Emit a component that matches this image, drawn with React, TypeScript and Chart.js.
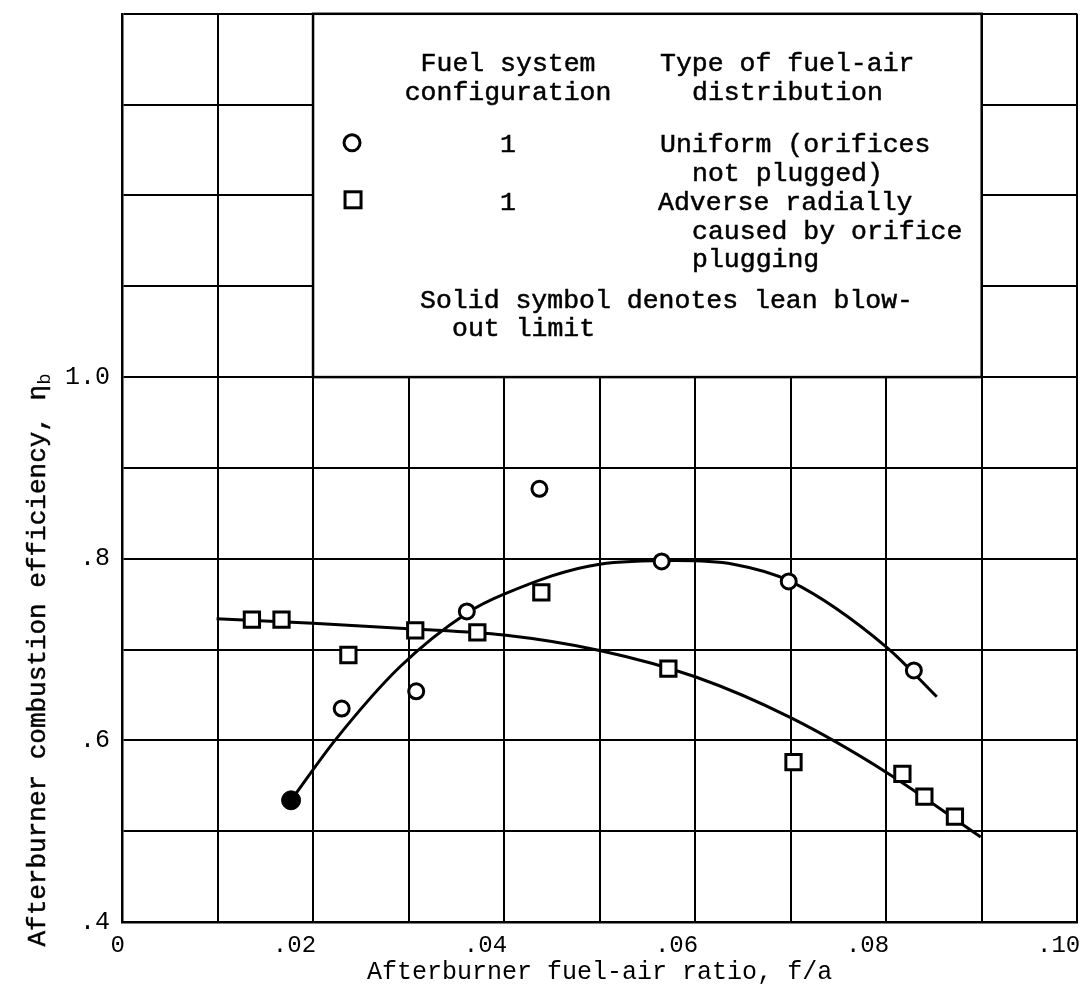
import React, { useEffect, useRef } from "react";
import { Chart, registerables } from "chart.js";

Chart.register(...registerables);

const FONT = '"Liberation Mono", "Courier New", monospace';

// Uniform fuel-air distribution (orifices not plugged), open circles
const uniformFA = [0.023, 0.0308, 0.0361, 0.0437, 0.0565, 0.0698, 0.0829];
const uniformEff = [0.635, 0.654, 0.742, 0.877, 0.797, 0.775, 0.677];

// Lean blow-out limit, solid circle
const blowoutFA = [0.0177];
const blowoutEff = [0.534];

// Adverse radial distribution caused by orifice plugging, open squares
const pluggedFA = [0.0136, 0.0167, 0.0237, 0.0307, 0.0372, 0.0439, 0.0572, 0.0703, 0.0817, 0.084, 0.0872];
const pluggedEff = [0.733, 0.733, 0.694, 0.721, 0.719, 0.763, 0.679, 0.576, 0.563, 0.538, 0.516];

// Faired curves through each set
const uniformCurveFA = [0.0177, 0.0223, 0.0291, 0.0361, 0.04, 0.05, 0.058, 0.064, 0.07, 0.08, 0.0853];
const uniformCurveEff = [0.534, 0.6, 0.681, 0.74, 0.761, 0.794, 0.798, 0.794, 0.775, 0.703, 0.648];
const pluggedCurveFA = [0.0099, 0.02, 0.03, 0.04, 0.05, 0.06, 0.07, 0.08, 0.0899];
const pluggedCurveEff = [0.734, 0.729, 0.723, 0.716, 0.699, 0.67, 0.625, 0.565, 0.4935];

// Labelled ticks
const xTickValues = [0, 0.02, 0.04, 0.06, 0.08, 0.1];
const xTickLabels = ["0", ".02", ".04", ".06", ".08", ".10"];
const yTickValues = [0.4, 0.6, 0.8, 1.0];
const yTickLabels = [".4", ".6", ".8", "1.0"];

const xTitle = "Afterburner fuel-air ratio, f/a";
const yTitleMain = "Afterburner combustion efficiency, \u03b7";
const yTitleSub = "b";

// Key text
const keyHeadLeft = ["Fuel system", "configuration"];
const keyHeadRight = ["Type of fuel-air", "distribution"];
const keyConfig = ["1", "1"];
const keyUniform = ["Uniform (orifices", "not plugged)"];
const keyPlugged = ["Adverse radially", "caused by orifice", "plugging"];
const keyNote = ["Solid symbol denotes lean blow-", "out limit"];

const pts = (xs: number[], ys: number[]) => xs.map((x, i) => ({ x, y: ys[i] }));

const labelFor = (values: number[], labels: string[], v: number) => {
  const i = values.findIndex((t) => Math.abs(t - v) < 1e-6);
  return i >= 0 ? labels[i] : "";
};

const keyPlugin = {
  id: "keyBox",
  beforeDatasetsDraw(chart: any) {
    const { ctx } = chart;
    const xs = chart.scales.x;
    const ys = chart.scales.y;
    const L = xs.getPixelForValue(0.02);
    const R = xs.getPixelForValue(0.09);
    const T = ys.getPixelForValue(1.4);
    const B = ys.getPixelForValue(1.0);
    ctx.save();
    ctx.fillStyle = "#fff";
    ctx.fillRect(L, T, R - L, B - T);
    ctx.strokeStyle = "#000";
    ctx.lineWidth = 2.5;
    ctx.strokeRect(L, T, R - L, B - T);

    ctx.fillStyle = "#000";
    ctx.strokeStyle = "#000";
    ctx.lineWidth = 0.5;
    ctx.font = `26.5px ${FONT}`;
    ctx.textBaseline = "alphabetic";
    const put = (t: string, x: number, y: number, align: CanvasTextAlign) => {
      ctx.textAlign = align;
      ctx.fillText(t, L + x, T + y);
      ctx.strokeText(t, L + x, T + y);
    };
    put(keyHeadLeft[0], 195, 57, "center");
    put(keyHeadLeft[1], 195, 86, "center");
    put(keyHeadRight[0], 347, 57, "left");
    put(keyHeadRight[1], 379, 86, "left");
    put(keyConfig[0], 195, 138, "center");
    put(keyUniform[0], 347, 138, "left");
    put(keyUniform[1], 379, 167, "left");
    put(keyConfig[1], 195, 196, "center");
    put(keyPlugged[0], 345, 196, "left");
    put(keyPlugged[1], 379, 225, "left");
    put(keyPlugged[2], 379, 253, "left");
    put(keyNote[0], 107, 294, "left");
    put(keyNote[1], 139, 322, "left");

    // symbols
    ctx.lineWidth = 3;
    ctx.beginPath();
    ctx.arc(L + 39, T + 129, 8, 0, Math.PI * 2);
    ctx.stroke();
    ctx.strokeRect(L + 32, T + 178, 16, 16);
    ctx.restore();
  },
};

const yTitlePlugin = {
  id: "yTitle",
  afterDraw(chart: any) {
    const { ctx } = chart;
    ctx.save();
    ctx.translate(36, 660);
    ctx.rotate(-Math.PI / 2);
    ctx.fillStyle = "#000";
    ctx.strokeStyle = "#000";
    ctx.lineWidth = 0.5;
    ctx.textAlign = "left";
    ctx.textBaseline = "alphabetic";
    ctx.font = `26px ${FONT}`;
    const wMain = ctx.measureText(yTitleMain).width;
    ctx.font = `19px ${FONT}`;
    const wSub = ctx.measureText(yTitleSub).width;
    const x0 = -(wMain + wSub) / 2;
    ctx.font = `26px ${FONT}`;
    ctx.fillText(yTitleMain, x0, 9);
    ctx.strokeText(yTitleMain, x0, 9);
    ctx.font = `19px ${FONT}`;
    ctx.fillText(yTitleSub, x0 + wMain, 14);
    ctx.restore();
  },
};

export default function App() {
  const ref = useRef<HTMLCanvasElement | null>(null);

  useEffect(() => {
    if (!ref.current) return;
    const chart = new Chart(ref.current, {
      type: "scatter",
      data: {
        datasets: [
          {
            label: "blow-out",
            data: pts(blowoutFA, blowoutEff),
            pointStyle: "circle",
            pointRadius: 9.5,
            backgroundColor: "#000",
            borderColor: "#000",
            borderWidth: 1,
          },
          {
            label: "uniform",
            data: pts(uniformFA, uniformEff),
            pointStyle: "circle",
            pointRadius: 7.5,
            backgroundColor: "#fff",
            borderColor: "#000",
            borderWidth: 3,
          },
          {
            label: "plugged",
            data: pts(pluggedFA, pluggedEff),
            pointStyle: "rect",
            pointRadius: 10.8,
            backgroundColor: "#fff",
            borderColor: "#000",
            borderWidth: 3,
          },
          {
            label: "uniform curve",
            data: pts(uniformCurveFA, uniformCurveEff),
            showLine: true,
            pointRadius: 0,
            borderColor: "#000",
            borderWidth: 3,
            cubicInterpolationMode: "monotone",
          },
          {
            label: "plugged curve",
            data: pts(pluggedCurveFA, pluggedCurveEff),
            showLine: true,
            pointRadius: 0,
            borderColor: "#000",
            borderWidth: 3,
            cubicInterpolationMode: "monotone",
          },
        ],
      },
      options: {
        animation: false,
        responsive: false,
        maintainAspectRatio: false,
        devicePixelRatio: 1,
        layout: { padding: { top: 13, right: 0, left: 0, bottom: 0 } },
        plugins: { legend: { display: false }, tooltip: { enabled: false } },
        scales: {
          x: {
            type: "linear",
            min: 0,
            max: 0.1,
            ticks: {
              stepSize: 0.01,
              autoSkip: false,
              maxRotation: 0,
              align: "end",
              labelOffset: 3,
              padding: 9,
              color: "#000",
              font: { family: FONT, size: 24 },
              callback: (v: any) => labelFor(xTickValues, xTickLabels, Number(v)),
            },
            grid: { color: "#000", lineWidth: 2, drawTicks: false },
            border: { color: "#000", width: 2.5 },
            title: {
              display: true,
              text: xTitle,
              color: "#000",
              font: { family: FONT, size: 25 },
              padding: { top: 0, bottom: 5 },
            },
            afterFit: (s: any) => {
              s.height = 70;
              s.paddingLeft = 0;
              s.paddingRight = 0;
            },
          },
          y: {
            type: "linear",
            min: 0.4,
            max: 1.4,
            ticks: {
              stepSize: 0.1,
              autoSkip: false,
              padding: 12,
              color: "#000",
              font: { family: FONT, size: 25 },
              callback: (v: any) => labelFor(yTickValues, yTickLabels, Number(v)),
            },
            grid: { color: "#000", lineWidth: 2, drawTicks: false },
            border: { color: "#000", width: 2.5 },
            afterFit: (s: any) => {
              s.width = 122;
              s.paddingTop = 0;
              s.paddingBottom = 0;
            },
          },
        },
      },
      plugins: [keyPlugin, yTitlePlugin],
    });
    return () => chart.destroy();
  }, []);

  return (
    <div
      style={{
        position: "absolute",
        left: 0,
        top: 0,
        width: 1087,
        height: 992,
        overflow: "hidden",
        background: "#fff",
      }}
    >
      <canvas ref={ref} width={1091} height={992} style={{ display: "block" }} />
    </div>
  );
}
